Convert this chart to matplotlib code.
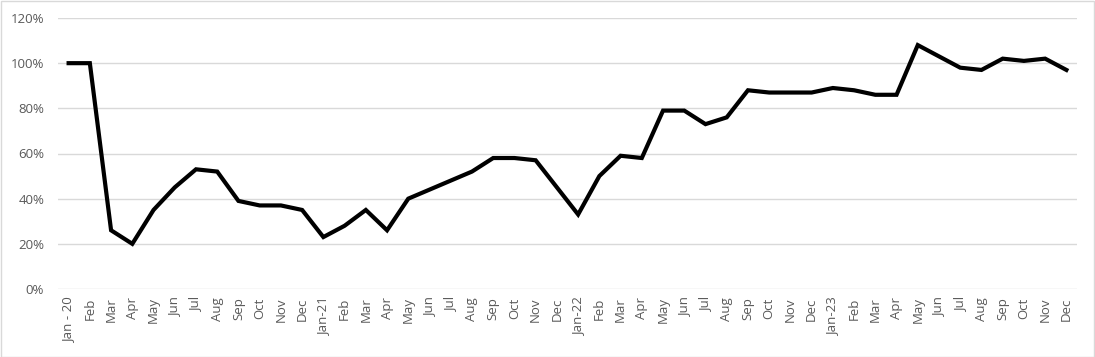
import matplotlib
matplotlib.use("Agg")
import matplotlib.pyplot as plt
from matplotlib.patches import Rectangle
from matplotlib.ticker import FuncFormatter

plt.rcParams['font.family'] = ['Open Sans', 'DejaVu Sans']

labels = ["Jan - 20", "Feb", "Mar", "Apr", "May", "Jun", "Jul", "Aug", "Sep", "Oct", "Nov", "Dec",
          "Jan-21", "Feb", "Mar", "Apr", "May", "Jun", "Jul", "Aug", "Sep", "Oct", "Nov", "Dec",
          "Jan-22", "Feb", "Mar", "Apr", "May", "Jun", "Jul", "Aug", "Sep", "Oct", "Nov", "Dec",
          "Jan-23", "Feb", "Mar", "Apr", "May", "Jun", "Jul", "Aug", "Sep", "Oct", "Nov", "Dec"]
values = [100, 100, 26, 20, 35, 45, 53, 52, 39, 37, 37, 35,
          23, 28, 35, 26, 40, 44, 48, 52, 58, 58, 57, 45,
          33, 50, 59, 58, 79, 79, 73, 76, 88, 87, 87, 87,
          89, 88, 86, 86, 108, 103, 98, 97, 102, 101, 102, 97]
yticks = [0, 20, 40, 60, 80, 100, 120]

W, H = 1095, 357
fig = plt.figure(figsize=(W/100, H/100), dpi=100)
ax = fig.add_axes([58/W, 1-289/H, (1077-58)/W, (289-18)/H])

x = list(range(len(values)))
ax.plot(x, values, color='black', lw=3.0, solid_joinstyle='miter', zorder=3)
ax.set_xlim(-0.5, len(values)-0.5)
ax.set_ylim(0, 120)
ax.set_yticks(yticks)
ax.yaxis.set_major_formatter(FuncFormatter(lambda v, p: f"{int(v)}%"))
ax.set_xticks(x)
ax.set_xticklabels(labels, rotation=90)
ax.grid(axis='y', color='#d9d9d9', lw=1)
ax.set_axisbelow(True)
for s in ax.spines.values():
    s.set_visible(False)
ax.tick_params(axis='both', length=0, colors='#595959', labelsize=9.5)
ax.tick_params(axis='y', pad=10)
ax.tick_params(axis='x', pad=6)

fig.patches.append(Rectangle((0.5/W, 0.5/H), 1-1.5/W, 1-1.5/H, transform=fig.transFigure,
                             fill=False, edgecolor='#d9d9d9', lw=1))
fig.savefig("out.png", dpi=100)
